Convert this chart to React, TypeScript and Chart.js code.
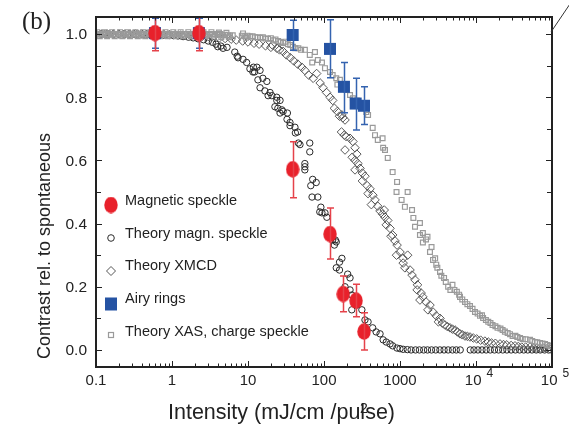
import React, { useEffect, useRef } from 'react';
import { Chart, registerables } from 'chart.js';
Chart.register(...registerables);

const FONT = '"Liberation Sans", Arial, Helvetica, sans-serif';
const SERIF = '"Liberation Serif", "Times New Roman", serif';

// ---------- data ----------
const magneticX = [0.597, 2.26, 38.7, 120, 179, 264, 336];
const magneticY = [1.003, 1.003, 0.572, 0.367, 0.177, 0.156, 0.058];
const magneticLo = [0.947, 0.947, 0.482, 0.288, 0.121, 0.105, 0.0];
const magneticHi = [1.055, 1.055, 0.659, 0.449, 0.234, 0.208, 0.118];

const airyX = [0.597, 2.26, 38.7, 120, 183, 261, 336];
const airyY = [1.003, 1.003, 0.997, 0.953, 0.833, 0.78, 0.773];
const airyLo = [0.955, 0.955, 0.949, 0.862, 0.751, 0.696, 0.714];
const airyHi = [1.05, 1.05, 1.044, 1.045, 0.91, 0.86, 0.833];

const theoryMagn: [number, number][] = [
  [0.1, 1.0], [0.115, 1.0], [0.13, 1.0], [0.15, 1.0], [0.17, 1.0], [0.2, 1.0], [0.23, 1.0], [0.27, 1.0],
  [0.31, 1.0], [0.36, 1.0], [0.42, 0.999], [0.49, 0.999], [0.57, 0.998], [0.66, 0.998], [0.77, 0.997],
  [0.9, 0.996], [1.05, 0.995], [1.2, 0.994], [1.4, 0.992], [1.65, 0.99], [1.9, 0.988], [2.2, 0.985],
  [2.6, 0.982], [3.0, 0.978], [3.4, 0.974], [3.8, 0.968], [4.0, 0.96], [4.4, 0.962], [4.7, 0.955],
  [5.3, 0.958], [6.7, 0.943], [7.2, 0.93], [7.4, 0.925], [8.6, 0.92], [9.6, 0.91], [10.6, 0.89],
  [11.6, 0.88], [11.8, 0.895], [13.1, 0.895], [14.4, 0.885], [12.2, 0.88], [13.5, 0.855], [15.7, 0.86],
  [17.7, 0.85], [14.4, 0.83], [16.7, 0.82], [19.5, 0.815], [18.4, 0.805], [20.6, 0.805], [23.9, 0.79],
  [23.9, 0.8], [26.4, 0.79], [22.6, 0.77], [24.7, 0.765], [26.4, 0.75], [27.9, 0.76], [29, 0.755],
  [32.6, 0.73], [33, 0.75], [35.7, 0.71], [35.7, 0.72], [41.5, 0.705], [42, 0.687], [45, 0.69],
  [46, 0.655], [48.3, 0.65], [65, 0.655], [65, 0.627], [56, 0.58], [56, 0.57], [56, 0.59], [71, 0.54],
  [79, 0.53], [67, 0.52], [69.6, 0.484], [83, 0.484], [91, 0.452], [88, 0.437], [94, 0.434],
  [103, 0.434], [109, 0.42], [120, 0.364], [125, 0.375], [130, 0.348], [137, 0.332], [141, 0.348],
  [145, 0.342], [160, 0.278], [172, 0.29], [145, 0.26], [160, 0.253], [205, 0.24], [220, 0.228],
  [189, 0.2], [220, 0.19], [232, 0.174], [232, 0.127], [270, 0.142], [315, 0.127], [346, 0.095],
  [380, 0.089], [437, 0.07], [485, 0.057], [546, 0.051], [600, 0.032], [660, 0.025], [739, 0.019],
  [800, 0.013], [912, 0.006], [1000, 0.004], [1100, 0.002], [1250, 0.001], [1400, 0.0], [1600, 0.0],
  [1800, 0.0], [2050, 0.0], [2300, 0.0], [2600, 0.0], [2950, 0.0], [3350, 0.0], [3800, 0.0],
  [4300, 0.0], [4900, 0.0], [5500, 0.0], [6200, 0.0], [8400, 0.0], [9400, 0.0], [10600, 0.0],
  [12000, 0.0], [13600, 0.0], [15400, 0.0], [17500, 0.0], [19800, 0.0], [22500, 0.0], [25500, 0.0],
  [29000, 0.0], [33000, 0.0], [37500, 0.0], [42500, 0.0], [48000, 0.0], [54500, 0.0], [62000, 0.0],
  [70000, 0.0], [80000, 0.0], [90000, 0.0],
];

const theoryXmcd: [number, number][] = [
  [0.1, 1.0], [0.12, 1.0], [0.14, 1.0], [0.17, 1.0], [0.2, 1.0], [0.24, 1.0], [0.28, 1.0], [0.33, 1.0],
  [0.4, 1.0], [0.47, 1.0], [0.56, 1.0], [0.66, 0.999], [0.78, 0.999], [0.92, 0.998], [1.1, 0.998],
  [1.3, 0.997], [1.5, 0.996], [1.8, 0.995], [2.1, 0.994], [2.5, 0.993], [3.0, 0.992], [3.5, 0.99],
  [4.2, 0.988], [5, 0.986], [6, 0.984], [7, 0.981], [8.5, 0.978], [10, 0.975], [12, 0.971], [14, 0.968],
  [17, 0.963], [20, 0.958], [21, 0.965], [24, 0.955], [26, 0.95], [29, 0.945], [32, 0.934], [36, 0.925],
  [40, 0.915], [45, 0.905], [51, 0.895], [56, 0.885], [63, 0.87], [72, 0.86], [80, 0.875], [89, 0.845],
  [97, 0.83], [108, 0.815], [120, 0.8], [130, 0.79], [137, 0.765], [150, 0.755], [160, 0.74],
  [172, 0.744], [177, 0.735], [189, 0.728], [170, 0.69], [185, 0.68], [197, 0.675], [220, 0.67],
  [189, 0.633], [240, 0.66], [256, 0.64], [270, 0.62], [235, 0.61], [256, 0.6], [280, 0.59],
  [298, 0.575], [256, 0.57], [320, 0.56], [346, 0.55], [320, 0.535], [370, 0.52], [403, 0.51],
  [380, 0.495], [440, 0.49], [469, 0.475], [420, 0.46], [510, 0.455], [546, 0.44], [590, 0.43],
  [635, 0.42], [690, 0.41], [620, 0.443], [660, 0.396], [739, 0.385], [800, 0.364], [760, 0.36],
  [860, 0.345], [915, 0.332], [900, 0.3], [1000, 0.31], [1100, 0.29], [1260, 0.3], [1100, 0.275],
  [1160, 0.26], [1355, 0.253], [1440, 0.237], [1575, 0.222], [1700, 0.206], [1680, 0.19], [1900, 0.18],
  [2000, 0.168], [1830, 0.158], [2200, 0.152], [2480, 0.142], [2330, 0.127], [2720, 0.12], [3000, 0.108],
  [3360, 0.1], [3200, 0.089], [3600, 0.085], [3900, 0.079], [4200, 0.074], [4550, 0.07], [4900, 0.066],
  [5300, 0.063], [5700, 0.057], [6160, 0.051], [6600, 0.048], [7170, 0.044], [7700, 0.043], [8340, 0.041],
  [9200, 0.038], [10200, 0.035], [11500, 0.031], [13100, 0.028], [14500, 0.025], [16000, 0.022],
  [18000, 0.021], [20700, 0.019], [23000, 0.017], [25400, 0.016], [29000, 0.014], [32600, 0.013],
  [36000, 0.011], [40000, 0.009], [45000, 0.009], [51400, 0.009], [57000, 0.007], [63000, 0.006],
  [70000, 0.006], [78000, 0.006], [86000, 0.004], [94000, 0.003],
];

const theoryXas: [number, number][] = [
  [0.1, 1.0], [0.108, 0.998], [0.116, 1.0], [0.125, 1.0], [0.135, 0.998], [0.145, 1.0], [0.157, 1.0],
  [0.17, 0.998], [0.183, 1.0], [0.2, 1.0], [0.215, 0.998], [0.23, 1.0], [0.25, 1.0], [0.27, 0.998],
  [0.29, 1.0], [0.315, 1.0], [0.34, 0.998], [0.37, 1.0], [0.4, 1.0], [0.43, 0.998], [0.46, 1.0],
  [0.5, 1.0], [0.54, 0.998], [0.58, 1.0], [0.63, 1.0], [0.68, 0.998], [0.73, 1.0], [0.79, 1.0],
  [0.85, 0.998], [0.92, 1.0], [1.0, 1.0], [1.08, 0.998], [1.16, 1.0], [1.25, 1.0], [1.35, 0.998],
  [1.46, 1.0], [1.58, 1.0], [1.7, 0.998], [1.84, 1.0], [2.0, 1.0], [2.15, 0.998], [2.3, 1.0], [2.5, 1.0],
  [2.7, 0.998], [2.9, 1.0], [3.15, 1.0], [3.4, 0.998], [3.7, 1.0], [4.0, 0.998], [4.3, 1.0], [4.6, 0.996],
  [5.0, 0.998], [5.4, 0.996], [5.8, 0.995], [6.3, 0.996], [8.3, 0.995], [9.0, 0.993], [9.8, 0.995],
  [0.104, 1.006], [0.112, 0.993], [0.13, 1.006], [0.14, 0.993], [0.163, 1.006], [0.176, 0.993],
  [0.207, 1.006], [0.222, 0.993], [0.26, 1.006], [0.28, 0.993], [0.33, 1.006], [0.355, 0.993],
  [0.415, 1.006], [0.445, 0.993], [0.52, 1.006], [0.56, 0.993], [0.655, 1.006], [0.7, 0.993],
  [0.82, 1.006], [0.88, 0.993], [1.04, 1.006], [1.12, 0.993], [1.3, 1.006], [1.4, 0.993],
  [1.64, 1.006], [1.77, 0.993], [2.07, 1.006], [2.22, 0.993], [2.6, 1.006], [2.8, 0.993],
  [3.3, 1.006], [3.55, 0.992], [4.15, 1.005], [4.45, 0.991], [5.2, 1.004], [5.6, 0.99],
  [8.6, 1.002], [9.4, 0.988],
  [10.6, 0.992], [11.5, 0.993], [12.4, 0.99], [13.4, 0.99], [14.5, 0.988], [15.7, 0.99], [17, 0.986],
  [18.4, 0.985], [20, 0.987], [21.5, 0.98], [23, 0.983], [25, 0.978], [27, 0.975], [29, 0.972],
  [31, 0.976], [33.5, 0.968], [36, 0.965], [39, 0.96], [42, 0.955], [46, 0.955], [50, 0.95], [56, 0.95],
  [65, 0.934], [70, 0.91], [76, 0.943], [83, 0.918], [94, 0.91], [103, 0.892], [120, 0.88], [130, 0.87],
  [145, 0.86], [162, 0.855], [150, 0.84], [177, 0.832], [197, 0.823], [220, 0.807], [240, 0.797],
  [270, 0.79], [298, 0.775], [320, 0.766], [360, 0.753], [380, 0.744], [437, 0.703], [469, 0.68],
  [510, 0.665], [600, 0.64], [635, 0.633], [590, 0.67], [690, 0.608], [800, 0.563], [915, 0.532],
  [900, 0.5], [1260, 0.5], [1050, 0.475], [1160, 0.453], [1440, 0.443], [1500, 0.418], [1830, 0.402],
  [1575, 0.39], [1830, 0.364], [2300, 0.358], [2000, 0.34], [2600, 0.326], [2480, 0.31], [2720, 0.285],
  [3000, 0.27], [3360, 0.247], [3800, 0.228], [4300, 0.2], [4900, 0.206], [5600, 0.184], [6160, 0.168],
  [7170, 0.152], [8340, 0.139], [9700, 0.12], [11300, 0.108], [12400, 0.101], [14500, 0.089],
  [16500, 0.079], [19200, 0.07], [22400, 0.063], [26100, 0.054], [30300, 0.044], [35000, 0.041],
  [41200, 0.035], [51400, 0.032], [59700, 0.025], [69500, 0.022], [81000, 0.019], [94000, 0.013],
  [2000, 0.37], [2200, 0.35], [2900, 0.29], [3100, 0.26], [3500, 0.235], [4000, 0.215], [4600, 0.19],
  [5200, 0.19], [6000, 0.175], [6600, 0.16], [7700, 0.145], [9000, 0.13], [10500, 0.115], [12000, 0.11],
  [13500, 0.095], [15500, 0.085], [18000, 0.075], [21000, 0.068], [24000, 0.058], [28000, 0.05],
  [33000, 0.045], [38000, 0.038], [45000, 0.034], [55000, 0.028], [64000, 0.024], [75000, 0.02],
  [87000, 0.016], [98000, 0.012],
];

const xTickValues = [0.1, 1, 10, 100, 1000, 10000, 100000];
const xTickBases = ['0.1', '1', '10', '100', '1000', '10', '10'];
const xTickExps = ['', '', '', '', '', '4', '5'];
const yTickValues = [0, 0.2, 0.4, 0.6, 0.8, 1.0];
const yTickLabels = ['0.0', '0.2', '0.4', '0.6', '0.8', '1.0'];

const legendLabels = ['Magnetic speckle', 'Theory magn. speckle', 'Theory XMCD', 'Airy rings', 'Theory XAS, charge speckle'];

const RED = '#e8212b';
const RED_BAR = '#e5424a';
const BLUE = '#2553a3';
const BLUE_BAR = '#3463b0';

function makeEllipse(w: number, h: number, color: string) {
  const c = document.createElement('canvas');
  c.width = w; c.height = h;
  const g = c.getContext('2d')!;
  g.fillStyle = color;
  g.beginPath();
  g.ellipse(w / 2, h / 2, w / 2 - 0.3, h / 2 - 0.3, 0, 0, Math.PI * 2);
  g.fill();
  return c;
}

export default function App() {
  const ref = useRef<HTMLCanvasElement>(null);
  useEffect(() => {
    const canvas = ref.current!;
    const redDot = makeEllipse(14, 17, RED);

    const errorBars = {
      id: 'errorBars',
      afterDatasetDraw(chart: any, args: any) {
        const ds: any = chart.data.datasets[args.index];
        if (!ds.errLo) return;
        const ctx = chart.ctx;
        const xs = chart.scales.x, ys = chart.scales.y;
        const a = chart.chartArea;
        ctx.save();
        ctx.beginPath();
        ctx.rect(a.left, a.top - 2, a.right - a.left, a.bottom - a.top + 4);
        ctx.clip();
        ctx.strokeStyle = ds.errColor;
        ctx.lineWidth = 1.5;
        ds.data.forEach((p: any, i: number) => {
          const px = Math.round(xs.getPixelForValue(p.x)) + 0.5;
          const lo = ys.getPixelForValue(ds.errLo[i]);
          const hi = ys.getPixelForValue(ds.errHi[i]);
          ctx.beginPath();
          ctx.moveTo(px, lo); ctx.lineTo(px, hi);
          ctx.moveTo(px - 3.5, lo); ctx.lineTo(px + 3.5, lo);
          ctx.moveTo(px - 3.5, hi); ctx.lineTo(px + 3.5, hi);
          ctx.stroke();
        });
        ctx.restore();
      },
    };

    const decor = {
      id: 'decor',
      afterDraw(chart: any) {
        const ctx = chart.ctx;
        const xs = chart.scales.x, ys = chart.scales.y;
        const a = chart.chartArea;
        ctx.save();
        // frame
        ctx.strokeStyle = '#222';
        ctx.lineWidth = 2;
        ctx.strokeRect(a.left, a.top, a.right - a.left, a.bottom - a.top);
        // ticks
        ctx.lineWidth = 1;
        ctx.beginPath();
        for (let e = -1; e <= 5; e++) {
          for (let m = 1; m < 10; m++) {
            const v = m * Math.pow(10, e);
            if (v > 100000) break;
            const px = Math.round(xs.getPixelForValue(v)) + 0.5;
            const len = m === 1 ? 6 : 3.5;
            ctx.moveTo(px, a.bottom); ctx.lineTo(px, a.bottom - len);
            ctx.moveTo(px, a.top); ctx.lineTo(px, a.top + len);
          }
        }
        for (let k = 0; k <= 10; k++) {
          const v = k / 10;
          const py = Math.round(ys.getPixelForValue(v)) + 0.5;
          const len = k % 2 === 0 ? 6 : 5;
          ctx.moveTo(a.left, py); ctx.lineTo(a.left + len, py);
          ctx.moveTo(a.right, py); ctx.lineTo(a.right - len, py);
        }
        ctx.stroke();

        // y tick labels
        ctx.fillStyle = '#222';
        ctx.font = `15.5px ${FONT}`;
        ctx.textAlign = 'right';
        ctx.textBaseline = 'middle';
        yTickValues.forEach((v, i) => {
          ctx.fillText(yTickLabels[i], 87, ys.getPixelForValue(v) + 1);
        });
        // x tick labels
        xTickValues.forEach((v, i) => {
          const px = xs.getPixelForValue(v);
          if (xTickExps[i]) {
            ctx.font = `15px ${FONT}`;
            ctx.textAlign = 'right';
            ctx.fillText(xTickBases[i], px + 5.5, 381);
            ctx.font = `12px ${FONT}`;
            ctx.textAlign = 'left';
            ctx.fillText(xTickExps[i], px + 10.5, 374);
          } else {
            ctx.font = `15px ${FONT}`;
            ctx.textAlign = 'center';
            ctx.fillText(xTickBases[i], px, 381);
          }
        });

        // x title
        ctx.font = `21.5px ${FONT}`;
        ctx.textAlign = 'left';
        ctx.textBaseline = 'alphabetic';
        ctx.fillText('Intensity (mJ/cm /pulse)', 168, 419);
        ctx.font = `14px ${FONT}`;
        ctx.fillText('2', 360, 413);

        // y title
        ctx.save();
        ctx.translate(45, 246);
        ctx.rotate(-Math.PI / 2);
        ctx.font = `18px ${FONT}`;
        ctx.textAlign = 'center';
        ctx.textBaseline = 'middle';
        ctx.fillText('Contrast rel. to spontaneous', 0, 0);
        ctx.restore();

        // (b)
        ctx.font = `25px ${SERIF}`;
        ctx.textAlign = 'left';
        ctx.fillText('(b)', 22, 29);

        // diagonal line
        ctx.beginPath();
        ctx.lineWidth = 1;
        ctx.strokeStyle = '#333';
        ctx.moveTo(551, 32);
        ctx.lineTo(574, -2);
        ctx.stroke();

        // legend
        const ly = [201, 233.5, 266, 298.5, 332];
        ctx.font = `14.5px ${FONT}`;
        ctx.fillStyle = '#222';
        ctx.textBaseline = 'middle';
        ctx.textAlign = 'left';
        legendLabels.forEach((t, i) => ctx.fillText(t, 125, ly[i]));
        // markers
        ctx.drawImage(redDot, 111 - 7, 205 - 8.5);
        ctx.beginPath();
        ctx.strokeStyle = '#2a2a2a';
        ctx.arc(111, 238, 3.3, 0, Math.PI * 2);
        ctx.stroke();
        ctx.beginPath();
        ctx.strokeStyle = '#555';
        ctx.moveTo(111, 266.5); ctx.lineTo(115.5, 271); ctx.lineTo(111, 275.5); ctx.lineTo(106.5, 271); ctx.closePath();
        ctx.stroke();
        ctx.fillStyle = BLUE;
        ctx.fillRect(105, 297.5, 12, 13);
        ctx.strokeStyle = '#9a9a9a';
        ctx.lineWidth = 1.2;
        ctx.strokeRect(108.5, 332.5, 5, 5);
        ctx.restore();
      },
    };

    const chart = new Chart(canvas, {
      type: 'scatter',
      data: {
        datasets: [
          {
            label: legendLabels[0],
            data: magneticX.map((x, i) => ({ x, y: magneticY[i] })),
            pointStyle: redDot as any,
            pointRadius: 8,
            order: 0,
            errLo: magneticLo, errHi: magneticHi, errColor: RED_BAR,
          } as any,
          {
            label: legendLabels[3],
            data: airyX.map((x, i) => ({ x, y: airyY[i] })),
            pointStyle: 'rect',
            pointRadius: 8.5,
            backgroundColor: BLUE,
            borderColor: BLUE,
            borderWidth: 0,
            order: 1,
            errLo: airyLo, errHi: airyHi, errColor: BLUE_BAR,
          } as any,
          {
            label: legendLabels[4],
            data: theoryXas.map(([x, y]) => ({ x, y })),
            pointStyle: 'rect',
            pointRadius: 3.4,
            backgroundColor: 'rgba(255,255,255,0)',
            borderColor: '#9a9a9a',
            borderWidth: 1.2,
            order: 2,
          },
          {
            label: legendLabels[2],
            data: theoryXmcd.map(([x, y]) => ({ x, y })),
            pointStyle: 'rectRot',
            pointRadius: 4.3,
            backgroundColor: 'rgba(255,255,255,0)',
            borderColor: '#585858',
            borderWidth: 1,
            order: 3,
          },
          {
            label: legendLabels[1],
            data: theoryMagn.map(([x, y]) => ({ x, y })),
            pointStyle: 'circle',
            pointRadius: 3.2,
            backgroundColor: 'rgba(255,255,255,0)',
            borderColor: '#2a2a2a',
            borderWidth: 1,
            order: 4,
          },
        ],
      },
      options: {
        responsive: false,
        devicePixelRatio: 1,
        animation: false,
        events: [],
        layout: { padding: { left: 96, top: 17, right: 17, bottom: 57 } },
        scales: {
          x: { type: 'logarithmic', min: 0.1, max: 100000, display: false },
          y: { type: 'linear', min: -0.054, max: 1.054, display: false },
        },
        plugins: { legend: { display: false }, tooltip: { enabled: false } },
      },
      plugins: [errorBars, decor],
    });
    return () => chart.destroy();
  }, []);

  return (
    <div style={{ position: 'fixed', left: 0, top: 0, width: 569, height: 424, background: '#fff' }}>
      <canvas ref={ref} width={569} height={424} style={{ display: 'block' }} />
    </div>
  );
}
